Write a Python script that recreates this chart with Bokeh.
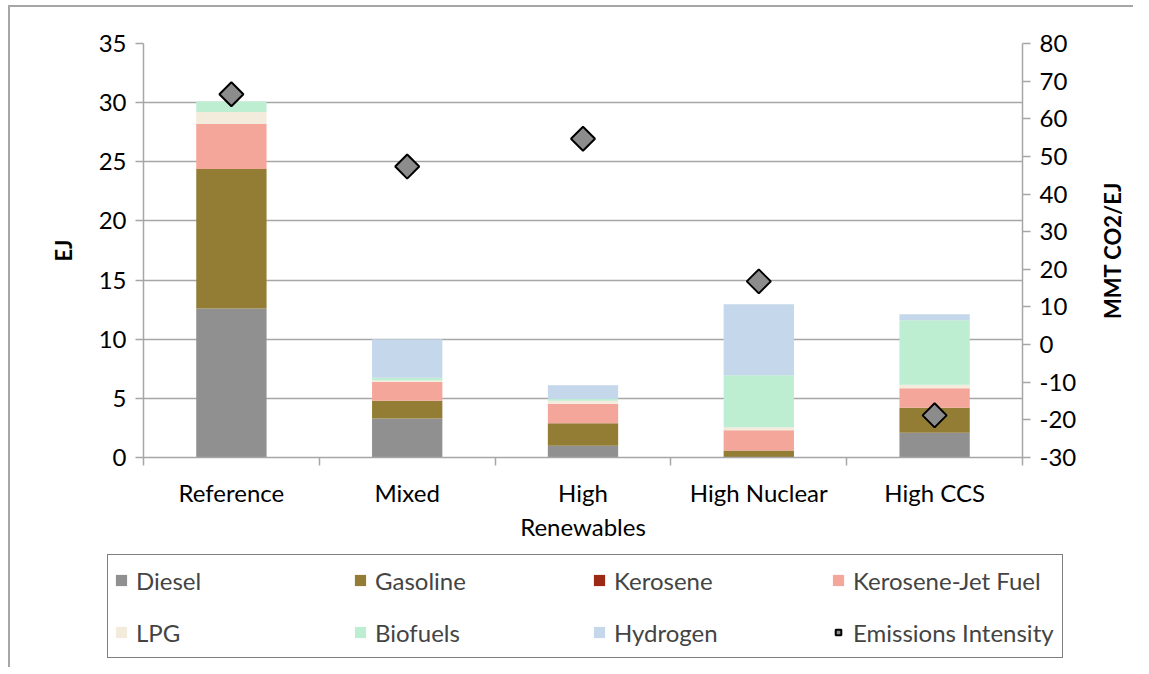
import math
from bokeh.plotting import figure
from bokeh.layouts import column, row
from bokeh.models import (Range1d, LinearAxis, SingleIntervalTicker, FixedTicker,
                          Legend, LegendItem, ColumnDataSource, PrintfTickFormatter)
from bokeh.embed import file_html
from bokeh.resources import INLINE

categories = ["Reference", "Mixed", "High Renewables", "High Nuclear", "High CCS"]
tick_labels = ["Reference", "Mixed", "High\nRenewables", "High Nuclear", "High CCS"]
series = ["Diesel", "Gasoline", "Kerosene", "Kerosene-Jet Fuel", "LPG", "Biofuels", "Hydrogen"]
diesel = [12.6, 3.3, 1.0, 0.05, 2.1]
gasoline = [11.8, 1.5, 1.9, 0.55, 2.1]
kerosene = [0.0, 0.0, 0.0, 0.0, 0.0]
jet_fuel = [3.8, 1.6, 1.65, 1.7, 1.65]
lpg = [1.0, 0.1, 0.25, 0.25, 0.3]
biofuels = [0.9, 0.25, 0.15, 4.4, 5.45]
hydrogen = [0.0, 3.25, 1.15, 6.0, 0.5]
emissions = [66.5, 47.3, 54.7, 16.8, -18.8]
colors = ["#909090", "#937d35", "#9b2914", "#f5a69a", "#f3ecdc", "#bdeed1", "#c5d7ea"]

FONT = "Lato"
FS = "24px"
x = [i + 0.5 for i in range(len(categories))]
data = dict(x=x, Diesel=diesel, Gasoline=gasoline, Kerosene=kerosene,
            **{"Kerosene-Jet Fuel": jet_fuel}, LPG=lpg, Biofuels=biofuels,
            Hydrogen=hydrogen, em=emissions)
src = ColumnDataSource(data)

W_LEFT, W_FRAME, W_RIGHT = 133, 879, 68
TOP, FRAME_H, BOTTOM = 36, 414, 90
W_STRIP = 43

p = figure(frame_width=W_FRAME, frame_height=FRAME_H, output_backend="svg", toolbar_location=None,
           x_range=Range1d(0, len(categories)), y_range=Range1d(0, 35),
           min_border_left=W_LEFT, min_border_right=W_RIGHT, min_border_top=TOP,
           min_border_bottom=BOTTOM)
p.extra_y_ranges = {"em": Range1d(-30, 80)}
p.outline_line_color = None

rs = p.vbar_stack(series, x="x", width=0.4, source=src, color=colors, line_color=None)
em = p.scatter("x", "em", source=src, y_range_name="em", marker="square", size=17,
               angle=math.pi / 4, fill_color="#8c8c8c", line_color="black", line_width=2)

# grid
p.xgrid.visible = False
p.ygrid.ticker = SingleIntervalTicker(interval=5)
p.ygrid.grid_line_color = "#a6a6a6"
p.ygrid.grid_line_width = 1.5

# x axis
xa = p.xaxis[0]
xa.ticker = FixedTicker(ticks=x, minor_ticks=list(range(len(categories) + 1)))
xa.major_label_overrides = {xi: lab for xi, lab in zip(x, tick_labels)}
xa.major_tick_out = 0
xa.major_tick_in = 0
xa.minor_tick_out = 8
xa.minor_tick_in = 0
xa.minor_tick_line_color = "#a6a6a6"
xa.minor_tick_line_width = 1.5
xa.axis_line_color = "#a6a6a6"
xa.axis_line_width = 1.5
xa.major_label_standoff = 12

# left axis
ya = p.yaxis[0]
ya.ticker = SingleIntervalTicker(interval=5)
ya.axis_label = "EJ"
ya.axis_label_standoff = 19

# right axis (its title is drawn by the narrow strip p3 so that it reads upwards)
ra = LinearAxis(y_range_name="em", ticker=SingleIntervalTicker(interval=10),
                formatter=PrintfTickFormatter(format="%d"))
p.add_layout(ra, "right")

for ax in [xa, ya, ra]:
    ax.major_label_text_font = FONT
    ax.major_label_text_font_size = FS
    ax.major_label_text_color = "black"
    ax.axis_label_text_font = FONT
    ax.axis_label_text_font_size = "22px"
    ax.axis_label_text_font_style = "bold"
    ax.axis_label_text_color = "black"
for ax in [ya, ra]:
    ax.minor_tick_line_color = None
    ax.axis_line_color = "#a6a6a6"
    ax.axis_line_width = 1.5
    ax.major_tick_line_color = "#a6a6a6"
    ax.major_tick_line_width = 1.5
    ax.major_tick_out = 8
    ax.major_tick_in = 0
    ax.major_label_standoff = 9

# narrow strip carrying the right-hand axis title
p3 = figure(frame_width=W_STRIP - 35, frame_height=FRAME_H, output_backend="svg",
            toolbar_location=None, x_range=Range1d(0, 1), y_range=Range1d(-30, 80),
            x_axis_location=None, min_border_left=35, min_border_right=0,
            min_border_top=TOP, min_border_bottom=BOTTOM)
p3.outline_line_color = None
p3.grid.visible = False
a3 = p3.yaxis[0]
a3.axis_label = "MMT CO2/EJ"
a3.axis_label_standoff = 0
a3.axis_label_text_font = FONT
a3.axis_label_text_font_size = "22px"
a3.axis_label_text_font_style = "bold"
a3.axis_label_text_color = "black"
a3.ticker = FixedTicker(ticks=[])
a3.axis_line_color = None
a3.major_tick_line_color = None
a3.minor_tick_line_color = None
a3.major_label_text_font_size = "0px"

# legend strip below the chart (legend drawn inside this strip's frame)
p2 = figure(frame_width=W_LEFT + W_FRAME + W_RIGHT + W_STRIP, frame_height=120,
            output_backend="svg", toolbar_location=None,
            x_range=Range1d(100, 101), y_range=Range1d(1000, 1001),
            x_axis_location=None, y_axis_location=None, min_border=0)
p2.outline_line_color = None
p2.grid.visible = False
rs2 = p2.vbar_stack(series, x="x", width=0.4, source=src, color=colors, line_color=None)
em2 = p2.scatter("x", "em", source=src, marker="square", size=17, angle=math.pi / 4,
                 fill_color="#8c8c8c", line_color="black", line_width=2)
items = [LegendItem(label=s, renderers=[r]) for s, r in zip(series, rs2)]
items.append(LegendItem(label="Emissions Intensity", renderers=[em2]))
legend = Legend(items=items, orientation="horizontal", ncols=4, location=(97, 9),
                label_text_font=FONT, label_text_font_size=FS,
                glyph_width=14, glyph_height=14, label_height=38, label_width=203,
                label_standoff=8, spacing=14, padding=6, margin=0,
                border_line_color="black", border_line_width=1.5,
                background_fill_alpha=1.0)
p2.add_layout(legend, "center")

layout = column(row(p, p3, spacing=0), row(p2, spacing=0), spacing=0,
                styles={"border-left": "2px solid #a6a6a6", "border-top": "2px solid #a6a6a6",
                        "margin-left": "8px", "margin-top": "5px"})

open("out.html", "w").write(file_html(layout, INLINE))
